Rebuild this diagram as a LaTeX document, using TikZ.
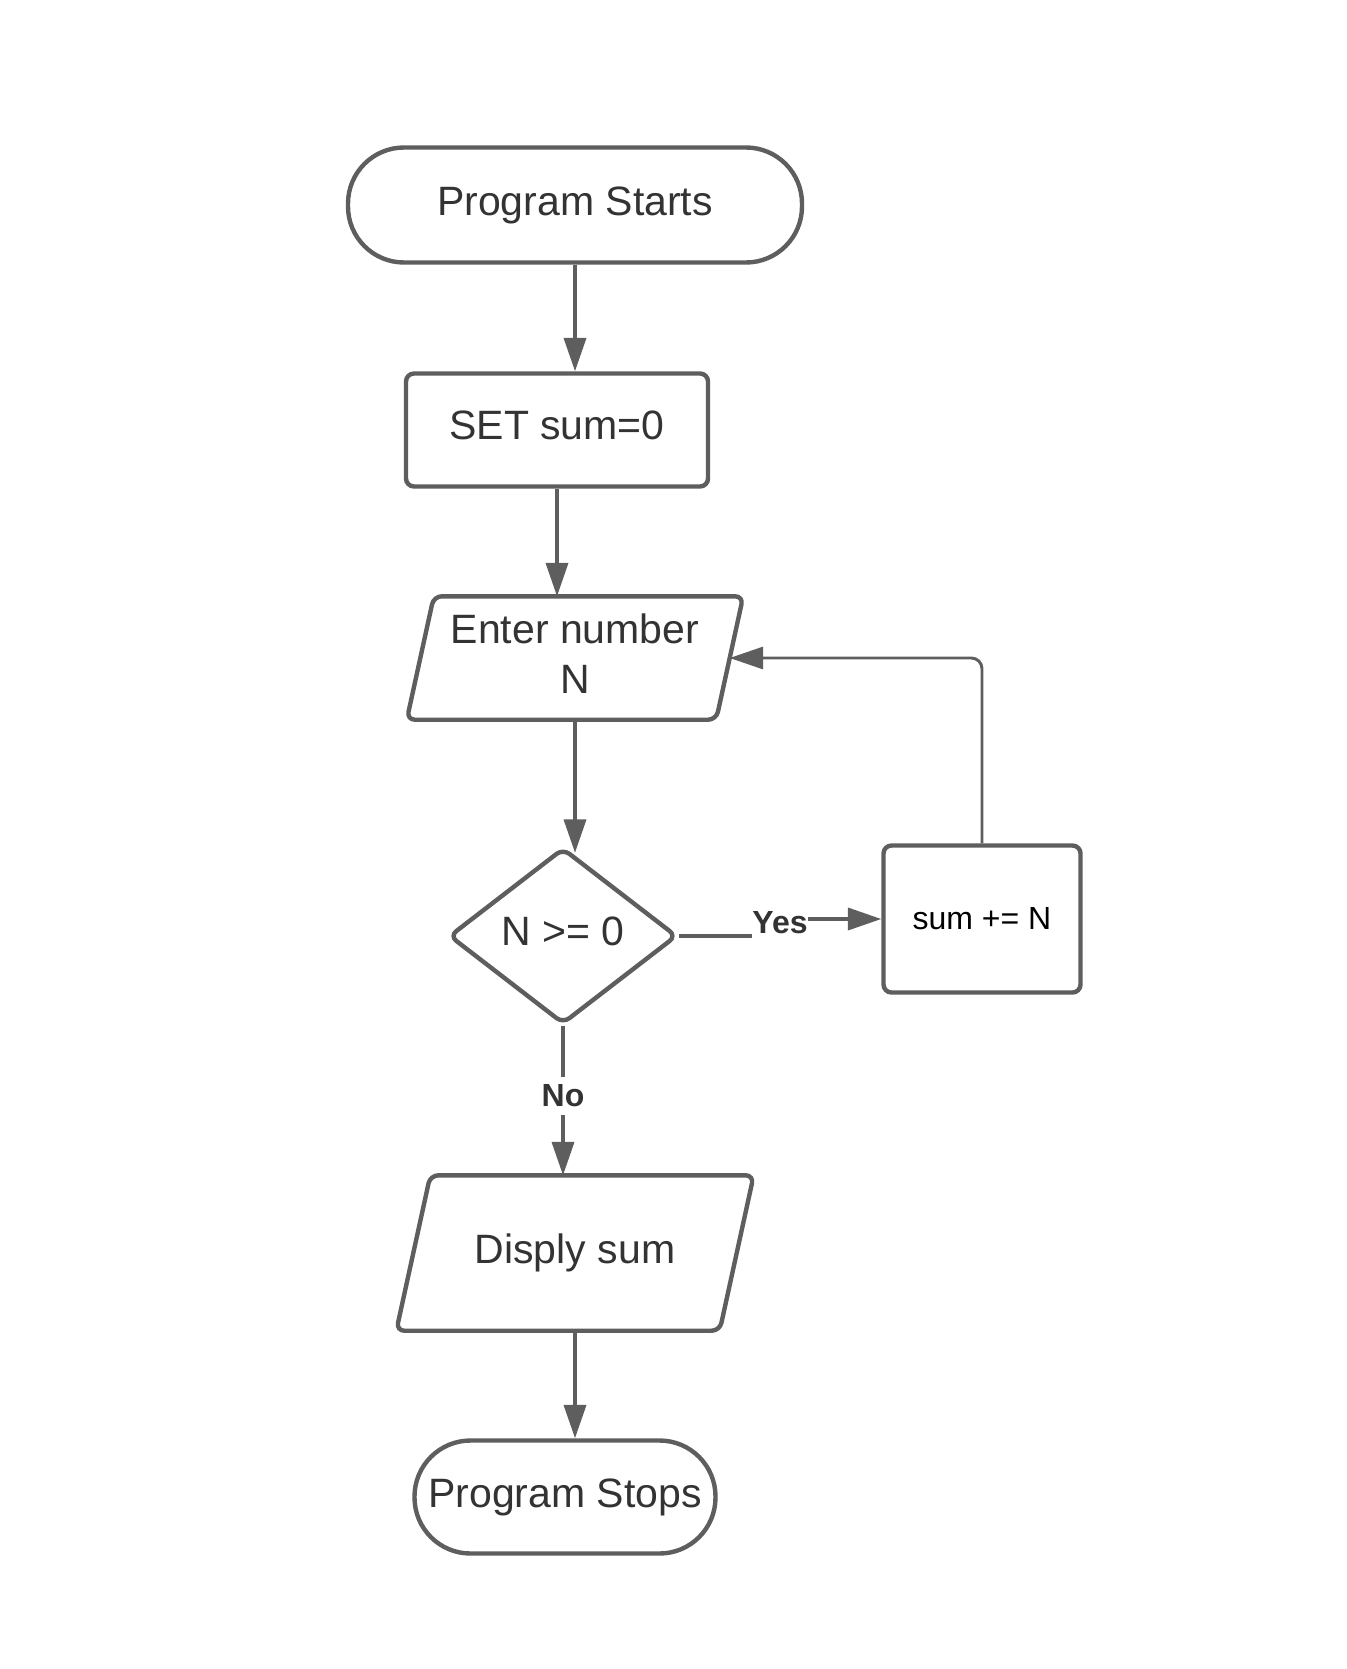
\documentclass[tikz,border=0pt]{standalone}
\usepackage{fontspec}
\setmainfont{Liberation Sans}
\usetikzlibrary{shapes.geometric,arrows.meta,calc}
\definecolor{linegray}{HTML}{5E5E5E}
\definecolor{textgray}{HTML}{333333}
\tikzset{
	box/.style={draw=linegray,line width=3.3pt,text=textgray,inner sep=0pt,font=\fontsize{30.75}{37.5}\selectfont},
	term/.style={box,rectangle,rounded corners=42pt},
	proc/.style={box,rectangle,rounded corners=6pt},
	io/.style={box,rectangle,draw=none,align=center},
	frame/.style={draw=linegray,line width=3.3pt,rounded corners=6pt},
	dec/.style={box,diamond,rounded corners=6pt},
	lift/.style={text depth=7pt},
	conn/.style={draw=linegray,line width=2.6pt,-{Triangle[length=25pt,width=16.5pt]}},
	lbl/.style={text=textgray,font=\fontsize{24}{28}\selectfont\bfseries,inner xsep=0pt,inner ysep=6pt}
}
\begin{document}
\begin{tikzpicture}[x=0.75pt,y=-0.75pt]
	\useasboundingbox (0,0) rectangle (1346,1669);
	%flowchart nodes
	\node[term,minimum width=340.5pt,minimum height=86.25pt] (start) at (575,205) {Program Starts};
	\node[proc,lift,minimum width=226.5pt,minimum height=84.75pt] (set) at (557,430) {SET sum=0};
	\node[io,lift,minimum width=228.75pt,minimum height=89.25pt] (enter) at (575,658) {Enter number\\N};
	\node[dec,lift,minimum width=171pt,minimum height=132pt] (dia) at (563,936) {N >= 0};
	\node[proc,minimum width=147.75pt,minimum height=110.25pt,text=black,font=\fontsize{24}{28}\selectfont] (sum) at (982,919) {sum += N};
	\node[io,minimum width=239.25pt,minimum height=113.25pt] (disp) at (575,1253) {Disply sum};
	\node[term,minimum width=225.75pt,minimum height=84.75pt] (stop) at (565,1497) {Program Stops};
	\node[lbl,inner ysep=0pt] (yes) at (780,923) {Yes};
	\node[lbl] (no) at (563,1096) {No};
	%slanted input/output shapes
	\foreach \n/\d in {enter/13.5,disp/17}
		\draw[frame] ($(\n.south west)+(-\d,0)$) -- ($(\n.north west)+(\d,0)$) -- ($(\n.north east)+(\d,0)$) -- ($(\n.south east)+(-\d,0)$) -- cycle;
	%connectors
	\draw[conn] (start.south) -- (start.south |- set.north);
	\draw[conn] (set.south) -- (set.south |- enter.north);
	\draw[conn] (enter.south) -- ($(enter.south |- dia.north)+(0,7)$);
	\draw[conn,-] (dia.east) -- (dia.east -| yes.west);
	\draw[conn] (yes.east |- sum.west) -- (sum.west);
	\draw[conn,line width=2.2pt,rounded corners=8pt] (sum.north) |- (enter.east);
	\draw[conn,-] (dia.south) -- (no.north);
	\draw[conn] (no.south) -- (no.south |- disp.north);
	\draw[conn] (disp.south) -- (disp.south |- stop.north);
\end{tikzpicture}
\end{document}
